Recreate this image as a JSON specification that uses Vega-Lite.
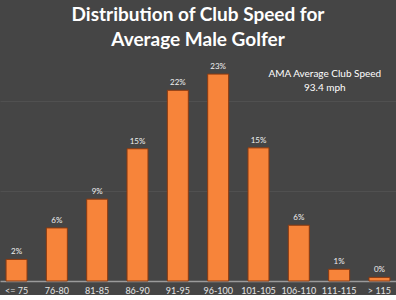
{
  "$schema": "https://vega.github.io/schema/vega-lite/v6.json",
  "width": 396,
  "height": 224,
  "padding": {"top": 6, "bottom": 0, "left": 0, "right": 0},
  "background": "#454545",
  "title": {
    "text": ["Distribution of Club Speed for", "Average Male Golfer"],
    "font": "Lato",
    "fontSize": 19,
    "fontWeight": "bold",
    "color": "#ffffff",
    "lineHeight": 25,
    "anchor": "middle",
    "offset": 7
  },
  "data": {
    "values": [
      {"range": "<= 75", "pct": 2.4, "label": "2%"},
      {"range": "76-80", "pct": 5.9, "label": "6%"},
      {"range": "81-85", "pct": 9.1, "label": "9%"},
      {"range": "86-90", "pct": 14.7, "label": "15%"},
      {"range": "91-95", "pct": 21.2, "label": "22%"},
      {"range": "96-100", "pct": 23.0, "label": "23%"},
      {"range": "101-105", "pct": 14.8, "label": "15%"},
      {"range": "106-110", "pct": 6.2, "label": "6%"},
      {"range": "111-115", "pct": 1.3, "label": "1%"},
      {"range": "> 115", "pct": 0.4, "label": "0%"}
    ]
  },
  "encoding": {
    "x": {
      "field": "range",
      "type": "nominal",
      "sort": null,
      "scale": {"paddingInner": 0.48, "paddingOuter": 0.15},
      "axis": {
        "title": null,
        "labelAngle": 0,
        "labelColor": "#e6e6e6",
        "labelFont": "Lato",
        "labelFontSize": 9,
        "labelPadding": 5,
        "ticks": false,
        "domainColor": "#9a9a9a",
        "domainWidth": 1.5,
        "grid": false
      }
    },
    "y": {
      "field": "pct",
      "type": "quantitative",
      "scale": {"domain": [0, 24.9], "nice": false},
      "axis": {
        "title": null,
        "labels": false,
        "ticks": false,
        "domain": false,
        "values": [10, 20],
        "grid": true,
        "gridColor": "#505050",
        "gridWidth": 1
      }
    }
  },
  "layer": [
    {
      "mark": {"type": "bar", "color": "#f7843a", "stroke": "#8b3a10", "strokeWidth": 1}
    },
    {
      "mark": {"type": "text", "dy": -3, "baseline": "bottom", "font": "Lato", "fontSize": 8, "color": "#f0f0f0"},
      "encoding": {"text": {"field": "label"}}
    },
    {
      "data": {"values": [{"range": "106-110", "pct": 23.0, "note": ["AMA Average Club Speed", "93.4 mph"]}]},
      "mark": {"type": "text", "dx": 26, "baseline": "middle", "align": "center", "font": "Lato", "fontSize": 10, "lineHeight": 14, "color": "#ffffff"},
      "encoding": {"text": {"field": "note"}}
    }
  ],
  "config": {"view": {"stroke": null}}
}
